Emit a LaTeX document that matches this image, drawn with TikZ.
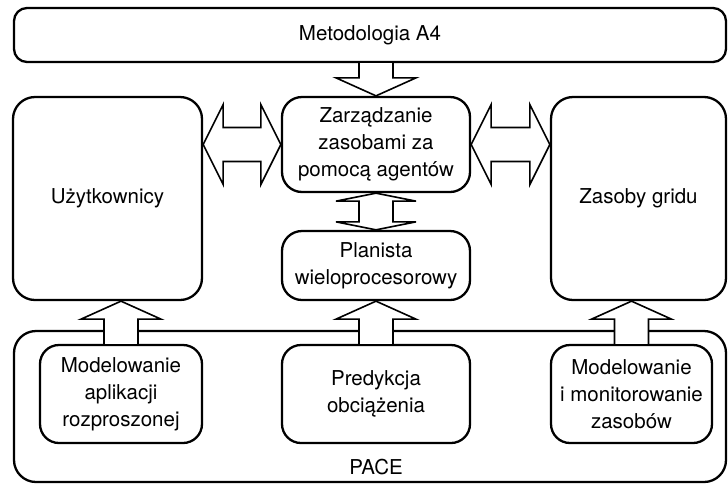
\documentclass[tikz,border=0pt]{standalone}
\usepackage{fontspec}
\setmainfont{TeX Gyre Heros}
\usetikzlibrary{calc, positioning}
\tikzset{
    box/.style n args={3}{
        draw, line width=2.3pt, rounded corners=#3,
        minimum width=#1, minimum height=#2, inner sep=0pt,
        align=center, font=\fontsize{20.5}{27}\selectfont
    },
    fatline/.style={draw, fill=white, line width=1.6pt, line join=miter},
    % single block arrow, vertical, open at its start
    fatv/.style={fatline,
        to path={let \p1=(\tikztostart), \p2=(\tikztotarget),
                     \p3=($(\tikztotarget)!#1!(\tikztostart)$) in
            (\x1-17pt,\y1) -- (\x1-17pt,\y3) -- (\x1-40pt,\y3) -- (\x2,\y2)
            -- (\x1+40pt,\y3) -- (\x1+17pt,\y3) -- (\x1+17pt,\y1)}
    },
    fatv/.default={18pt},
    % double block arrow, vertical
    fatvv/.style={fatline,
        to path={let \p1=(\tikztostart), \p2=(\tikztotarget),
                     \p3=($(\tikztostart)!#1!(\tikztotarget)$),
                     \p4=($(\tikztotarget)!#1!(\tikztostart)$) in
            (\x1,\y1) -- (\x1+40pt,\y3) -- (\x1+17pt,\y3) -- (\x1+17pt,\y4)
            -- (\x1+40pt,\y4) -- (\x2,\y2) -- (\x1-40pt,\y4) -- (\x1-17pt,\y4)
            -- (\x1-17pt,\y3) -- (\x1-40pt,\y3) -- cycle}
    },
    fatvv/.default={8pt},
    % double block arrow, horizontal
    fathh/.style={fatline,
        to path={let \p1=(\tikztostart), \p2=(\tikztotarget),
                     \p3=($(\tikztostart)!#1!(\tikztotarget)$),
                     \p4=($(\tikztotarget)!#1!(\tikztostart)$) in
            (\x1,\y1) -- (\x3,\y1+40pt) -- (\x3,\y1+17pt) -- (\x4,\y1+17pt)
            -- (\x4,\y1+40pt) -- (\x2,\y2) -- (\x4,\y1-40pt) -- (\x4,\y1-17pt)
            -- (\x3,\y1-17pt) -- (\x3,\y1-40pt) -- cycle}
    },
    fathh/.default={20pt}
}

\begin{document}
\begin{tikzpicture}[x=1pt, y=-1pt]
    \useasboundingbox (0,0) rectangle (728,483);
    % outer frames
    \node[box={712pt}{151pt}{22pt}] (pace) at (370,406.5) {};
    \node[box={712pt}{54pt}{13pt}] (meto) at (370,35) {Metodologia A4};
    \node[box={189pt}{203pt}{22pt}] (uzyt) at (107.5,198.5) {Użytkownicy};
    \node[box={175pt}{203pt}{22pt}] (grid) at (638.5,198.5) {Zasoby gridu};
    % middle column
    \node[box={188pt}{95pt}{20pt}] (zarz) at (376,144.5) {Zarządzanie\\zasobami za\\pomocą agentów};
    \node[box={188pt}{69pt}{20pt}] (plan) at (376,265.5) {Planista\\wieloprocesorowy};
    % PACE parts
    \node[box={162pt}{98pt}{19pt}] (modapp) at (121,394) {Modelowanie\\aplikacji\\rozproszonej};
    \node[box={188pt}{98pt}{19pt}] (pred) at (376,394) {Predykcja\\obciążenia};
    \node[box={161pt}{98pt}{19pt}] (modzas) at (631.5,394) {Modelowanie\\i monitorowanie\\zasobów};
    \node[font=\fontsize{20.5}{27}\selectfont] (pacelbl) at (376,467.5) {PACE};

    \draw[fatv] (meto.south -| zarz.north) to (zarz.north);
    \draw[fatvv] (zarz.south) to (plan.north);
    \draw[fathh] (uzyt.east |- zarz.west) to (zarz.west);
    \draw[fathh] (zarz.east) to (grid.west |- zarz.east);
    \draw[fatv] (modapp.north) to (uzyt.south -| modapp.north);
    \draw[fatv] (pred.north) to (plan.south);
    \draw[fatv] (modzas.north) to (grid.south -| modzas.north);
\end{tikzpicture}
\end{document}
